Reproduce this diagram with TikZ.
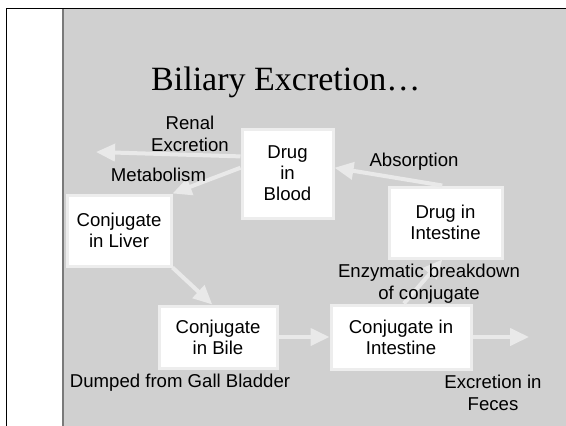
\documentclass[tikz,border=0pt]{standalone}
\usepackage{fontspec}
\setmainfont{Liberation Sans}
\newfontfamily\titlefont{Liberation Serif}
\usetikzlibrary{arrows.meta}
\definecolor{bggray}{HTML}{D0D0D0}
\definecolor{edgegray}{HTML}{7A7A7A}
\definecolor{arrowgray}{HTML}{E9E9E9}
\definecolor{boxedge}{HTML}{EDEDED}
\tikzset{
  box/.style={draw=boxedge, line width=3pt, fill=white, align=center, inner sep=0pt,
    font=\fontsize{18.6}{21}\selectfont},
  lbl/.style={align=center, inner sep=0pt, font=\fontsize{18.6}{22}\selectfont},
  flow/.style={draw=arrowgray, line width=4pt, -{Triangle[length=19pt,width=17pt]}}
}
\begin{document}
\begin{tikzpicture}[x=1pt,y=-1pt]
\useasboundingbox (0,0) rectangle (566,426);
% frame
\fill[bggray] (63,9) rectangle (566,426);
\draw[edgegray, line width=2pt] (63,9) -- (63,426);
\draw[black, line width=1pt] (6,426) -- (6,8) -- (566,8);
% title
\node[anchor=base west, inner sep=0pt, font=\titlefont\fontsize{34}{40}\selectfont] (title) at (151,90) {Biliary Excretion…};
% boxes
\node[box, minimum width=91pt, minimum height=89pt] (dib) at (287.5,173.5) {Drug\\in\\Blood};
\node[box, minimum width=104pt, minimum height=71pt] (liver) at (119,230.5) {Conjugate\\in Liver};
\node[box, minimum width=113pt, minimum height=71pt] (dint) at (445.5,222.5) {Drug in\\Intestine};
\node[box, minimum width=118pt, minimum height=62pt] (bile) at (218,337) {Conjugate\\in Bile};
\node[box, minimum width=140pt, minimum height=64pt] (cint) at (401,337) {Conjugate in\\Intestine};
% free ends
\coordinate (renalend) at (96,152);
\coordinate (fecesend) at (529,337);
% arrows
\draw[flow] (dib.160) -- (renalend);
\draw[flow] (dib.173) -- (liver.north east);
\draw[flow] (liver.south east) -- (bile.100);
\draw[flow] (bile.east) -- (cint.west);
\draw[flow] (cint.east) -- (fecesend);
\draw[flow] (cint.85) -- (dint.265);
\draw[flow] (dint.95) -- (dib.7);
% labels
\node[lbl] (lrenal) at (190,134) {Renal\\Excretion};
\node[lbl] (lmet) at (158.5,175) {Metabolism};
\node[lbl] (labs) at (414,162) {Absorption};
\node[lbl] (lenz) at (429,283.5) {Enzymatic breakdown\\of conjugate};
\node[lbl] (ldump) at (180,383) {Dumped from Gall Bladder};
\node[lbl] (lfeces) at (493,393) {Excretion in\\Feces};
\end{tikzpicture}
\end{document}
